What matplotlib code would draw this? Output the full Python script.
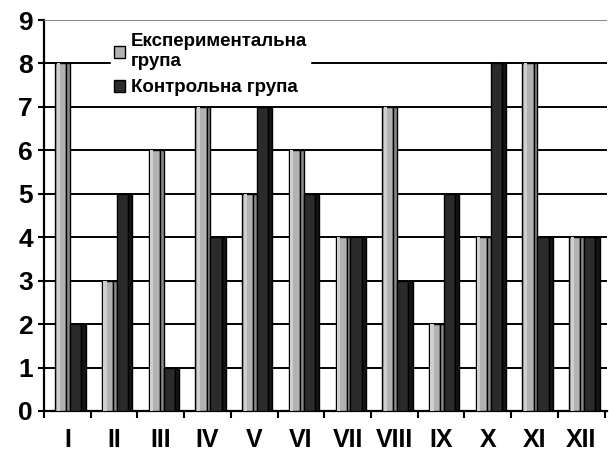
import numpy as np
import matplotlib.pyplot as plt
from matplotlib.patches import Patch

# Values
categories = ['I', 'II', 'III', 'IV', 'V', 'VI', 'VII', 'VIII', 'IX', 'X', 'XI', 'XII']
experimental = [8, 3, 6, 7, 5, 6, 4, 7, 2, 4, 8, 4]
control = [2, 5, 1, 4, 7, 5, 4, 3, 5, 8, 4, 4]
yticks = list(range(0, 10))

plt.rcParams['font.family'] = ['Liberation Sans', 'DejaVu Sans']

fig = plt.figure(figsize=(6.09, 4.55), dpi=100)
ax = fig.add_axes([44 / 609, 44 / 455, 563 / 609, 391 / 455])

x = np.arange(len(categories))

# grid lines on the back wall
for v in yticks[1:-1]:
    ax.axhline(v, color='black', lw=1.4, zorder=1)
ax.axhline(9, color='#888888', lw=1.4, zorder=6)

light_front, light_side = '#b2b2b2', '#8a8a8a'
dark_front, dark_side = '#2b2b2b', '#151515'

# experimental bars (front face + side face)
ax.bar(x - 0.26, experimental, width=0.24, align='edge', color=light_front,
       edgecolor='black', lw=1.0, zorder=3)
ax.bar(x - 0.23, experimental, width=0.07, align='edge', color='#cfcfcf',
       lw=0, zorder=4)
ax.bar(x - 0.02, experimental, width=0.08, align='edge', color=light_side,
       edgecolor='black', lw=1.0, zorder=3)
# control bars
ax.bar(x + 0.06, control, width=0.24, align='edge', color=dark_front,
       edgecolor='black', lw=1.0, zorder=3)
ax.bar(x + 0.30, control, width=0.09, align='edge', color=dark_side,
       edgecolor='black', lw=1.0, zorder=3)

ax.set_xlim(-0.5, 11.55)
ax.set_ylim(0, 9)
ax.set_yticks(yticks)
ax.set_yticklabels([str(v) for v in yticks], fontsize=19, fontweight='bold')
ax.set_xticks(x)
ax.set_xticklabels(categories, fontsize=18, fontweight='bold')
ax.set_xticks(np.arange(len(categories) + 1) - 0.5, minor=True)
ax.tick_params(axis='x', which='major', length=0, pad=12)
ax.tick_params(axis='x', which='minor', length=5, width=1.5, direction='out')
ax.tick_params(axis='y', length=4, width=1.5, pad=4)

for side in ['top', 'right']:
    ax.spines[side].set_visible(False)
ax.spines['left'].set_linewidth(1.6)
ax.spines['bottom'].set_linewidth(1.6)

handles = [Patch(facecolor=light_front, edgecolor='black', label='Експериментальна\nгрупа'),
           Patch(facecolor=dark_front, edgecolor='black', label='Контрольна група')]
leg = ax.legend(handles=handles, loc='upper left', bbox_to_anchor=(0.103, 0.997),
                frameon=True, fancybox=False, edgecolor='white', facecolor='white',
                framealpha=1, prop={'weight': 'bold', 'size': 13.5},
                handlelength=0.6, handleheight=0.6, handletextpad=0.3,
                labelspacing=0.5, borderpad=0.15)
leg.set_zorder(5)

fig.savefig('out.png', dpi=100)
